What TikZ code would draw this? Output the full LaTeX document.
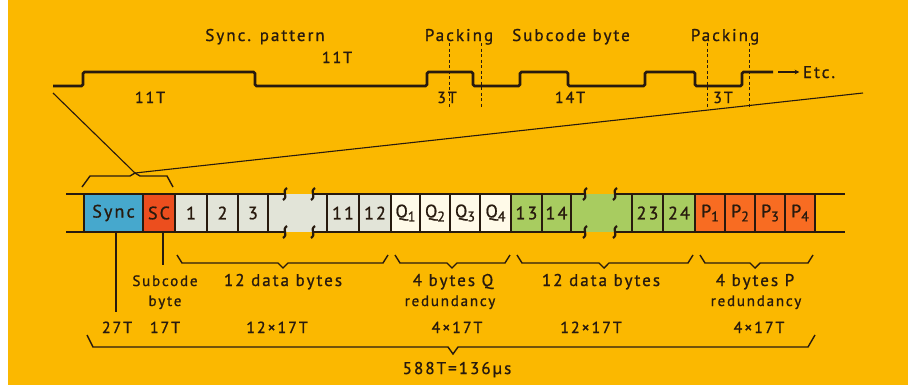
\documentclass[tikz,border=0pt]{standalone}
\usepackage{fontspec}
\setmainfont[LetterSpace=12,FakeBold=1]{PT Sans}
\definecolor{panel}{RGB}{251,184,0}
\definecolor{ink}{RGB}{40,26,14}
\definecolor{syncblue}{RGB}{70,168,205}
\definecolor{scred}{RGB}{236,78,30}
\definecolor{datagrey}{RGB}{226,228,216}
\definecolor{qwhite}{RGB}{255,250,232}
\definecolor{datagreen}{RGB}{168,204,96}
\definecolor{porange}{RGB}{248,108,34}
\newcommand{\lowidx}[1]{\raisebox{-0.45ex}{\fontsize{14}{14}\selectfont #1}}
% angular brace below a group of bytes: x left, x right, y top, x of tip
\newcommand{\lowbrace}[4]{%
  \draw[bracestyle] (#1,#3) -- ({#1+5},{#3+8}) -- ({#4-5},{#3+8}) -- (#4,{#3+13})
    -- ({#4+5},{#3+8}) -- ({#2-5},{#3+8}) -- (#2,#3);}
\begin{document}
\begin{tikzpicture}[x=1pt,y=-1pt,
    wave/.style={line width=2.6pt,ink,rounded corners=1.5pt},
    guide/.style={line width=1.1pt,ink},
    packmark/.style={line width=1pt,ink,dash pattern=on 3pt off 2.5pt},
    frameline/.style={line width=2pt,ink},
    divider/.style={line width=2.8pt,ink},
    breakmark/.style={line width=2.2pt,ink},
    cellbox/.style={inner sep=0pt,minimum height=38pt,text=ink,font=\fontsize{18}{18}\selectfont},
    toplabel/.style={anchor=base,text=ink,font=\fontsize{17}{17}\selectfont},
    timelabel/.style={anchor=base,text=ink,font=\fontsize{16}{16}\selectfont},
    lbl/.style={anchor=base,text=ink,font=\fontsize{17}{17}\selectfont},
    smalllbl/.style={anchor=base,text=ink,font=\fontsize{15}{15}\selectfont},
    bracestyle/.style={line width=1.4pt,ink}]

  \useasboundingbox (0,0) rectangle (908,391);
  \fill[white] (0,0) rectangle (908,391);
  \fill[panel] (8,0) rectangle (908,385);

  % channel bit pattern
  \draw[wave] (53,86) -- (83,86) -- (83,72) -- (255,72) -- (255,86) -- (427,86)
    -- (427,72) -- (473,72) -- (473,86) -- (520,86) -- (520,72) -- (568,72)
    -- (568,86) -- (645,86) -- (645,72) -- (695,72) -- (695,86) -- (742,86)
    -- (742,72) -- (773,72) coordinate (waveend);
  \node[toplabel] (etc) at (819,78) {Etc.};
  \draw[guide,-stealth] ([xshift=5pt]waveend) -- (etc.west |- waveend);

  \foreach \x in {449,481,707,749}
    \draw[packmark] (\x,43) -- (\x,108);

  \node[toplabel] (syncpat) at (265,41) {Sync. pattern};
  \node[toplabel] (packa) at (459,41) {Packing};
  \node[toplabel] (subbyte) at (571,41) {Subcode byte};
  \node[toplabel] (packb) at (725,41) {Packing};
  \node[timelabel] (synchi) at (337,63) {11T};
  \node[timelabel] (synclo) at (150,103) {11T};
  \node[timelabel] (packalo) at (447,103) {3T};
  \node[timelabel] (subbytelo) at (570,103) {14T};
  \node[timelabel] (packblo) at (723,103) {3T};

  % zoom lines down to the frame
  \coordinate (zoomtip) at (135,173);
  \draw[guide] (53,93) -- (zoomtip) -- (863,93);
  \draw[bracestyle] (82,187) -- (90,176) -- (130,176) -- (zoomtip)
    -- (140,176) -- (167,176) -- (173,187);

  % the frame
  \foreach \xa/\xb/\col/\txt/\nm in {84/143/syncblue/Sync/sync, 143/175/scred/SC/sc,
      175/207/datagrey/1/da, 207/238/datagrey/2/db, 238/268/datagrey/3/dc,
      268/327/datagrey//gapa, 327/359/datagrey/11/dk, 359/391/datagrey/12/dl,
      391/420/qwhite/Q\lowidx{1}/qa, 420/450/qwhite/Q\lowidx{2}/qb,
      450/480/qwhite/Q\lowidx{3}/qc, 480/511/qwhite/Q\lowidx{4}/qd,
      511/542/datagreen/13/dm, 542/571/datagreen/14/dn, 571/632/datagreen//gapb,
      632/663/datagreen/23/dw, 663/695/datagreen/24/dx,
      695/725/porange/P\lowidx{1}/pa, 725/755/porange/P\lowidx{2}/pb,
      755/785/porange/P\lowidx{3}/pc, 785/815/porange/P\lowidx{4}/pd}
    \node[cellbox,fill=\col,minimum width=\xb-\xa] (\nm) at ({(\xa+\xb)/2},213) {\txt};

  \foreach \y in {194,232} {
    \draw[frameline] (66,\y) -- (285,\y);
    \draw[frameline] (313,\y) -- (585,\y);
    \draw[frameline] (615,\y) -- (845,\y);
  }
  \foreach \x in {84,143,175,207,238,268,327,359,391,420,450,480,511,542,571,632,663,695,725,755,785,815}
    \draw[divider] (\x,194) -- (\x,232);
  \foreach \x in {285,313,585,615}
    \foreach \y in {194,232}
      \draw[breakmark] (\x-2,\y+6) .. controls (\x+4,\y+2) and (\x-4,\y-2) .. (\x+2,\y-6);

  % groups and durations
  \draw[guide] (sync.south) ++(2.5,0) -- ++(0,80);
  \draw[guide] (sc.south) ++(4,0) -- ++(0,33);
  \lowbrace{177}{388}{255}{283}
  \lowbrace{395}{510}{255}{452}
  \lowbrace{517}{693}{255}{604}
  \lowbrace{700}{813}{255}{755}
  \draw[bracestyle] (87,335) -- (93,347) -- (448,347) -- (453,354) -- (458,347)
    -- (808,347) -- (815,335);

  \node[smalllbl] (subcode) at (165,286) {Subcode};
  \node[smalllbl] (subcodeb) at (165,306) {byte};
  \node[lbl] (dataa) at (283,286) {12 data bytes};
  \node[lbl] (qred) at (453,286) {4 bytes Q};
  \node[smalllbl] (qredb) at (450,306) {redundancy};
  \node[lbl] (datab) at (601,286) {12 data bytes};
  \node[lbl] (pred) at (755,286) {4 bytes P};
  \node[smalllbl] (predb) at (756,306) {redundancy};

  \node[timelabel] (tsync) at (117,333) {27T};
  \node[timelabel] (tsc) at (165,333) {17T};
  \node[timelabel] (tdataa) at (277,333) {12×17T};
  \node[timelabel] (tq) at (457,333) {4×17T};
  \node[timelabel] (tdatab) at (591,333) {12×17T};
  \node[timelabel] (tp) at (759,333) {4×17T};
  \node[lbl] (total) at (457,374) {588T=136µs};
\end{tikzpicture}
\end{document}
